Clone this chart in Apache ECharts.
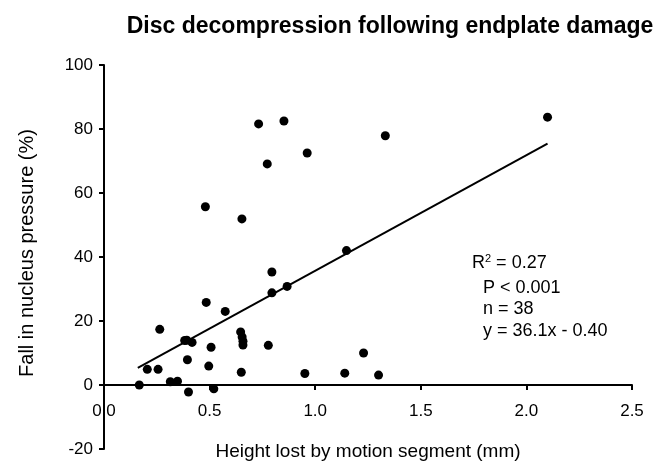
<!DOCTYPE html>
<html><head><meta charset="utf-8">
<script src="https://cdn.jsdelivr.net/npm/echarts@6/dist/echarts.min.js"></script>
<style>html,body{margin:0;padding:0;background:#fff}#c{width:667px;height:464px}</style>
</head><body><div id="c"></div>
<script>
const heightLost = [0.732,0.852,1.332,0.773,0.962,0.480,0.653,2.100,1.148,0.795,0.795,0.867,0.484,0.574,0.264,0.382,0.417,0.647,0.654,0.658,0.658,0.507,0.778,1.229,0.395,0.205,0.256,0.496,0.650,0.951,1.140,1.300,0.167,0.314,0.348,0.400,0.520,0.392];
const pressureFall = [81.6,82.5,77.9,69.1,72.5,55.7,51.9,83.7,42.0,35.3,28.8,30.8,25.8,23.0,17.4,13.9,13.3,16.6,15.0,13.7,12.5,11.8,12.4,10.0,7.9,4.9,4.9,5.9,4.0,3.6,3.7,3.1,0.0,1.0,1.2,-2.2,-1.2,14.0];
const fitSlope = 36.1, fitIntercept = -0.40;
const fitRange = [0.16, 2.10];
const xTicks = [0, 0.5, 1.0, 1.5, 2.0, 2.5];
const yTicks = [-20, 0, 20, 40, 60, 80, 100];
const statLines = ['P < 0.001', 'n = 38', 'y = 36.1x - 0.40'];

const pts = heightLost.map((x, i) => [x, pressureFall[i]]);
const fitLine = fitRange.map(x => [x, fitSlope * x + fitIntercept]);
const F = '"Liberation Sans", Arial, sans-serif';
const chart = echarts.init(document.getElementById('c'), null, {renderer: 'canvas'});
const gridTop = 65, gridBottom = 15, gridH = 464 - gridTop - gridBottom;
// shift the x axis up to the y = 0 level
const zeroOffset = -gridH * (0 - yTicks[0]) / (yTicks[yTicks.length-1] - yTicks[0]);
chart.setOption({
  animation: false,
  backgroundColor: '#fff',
  grid: {left: 104, right: 35, top: gridTop, bottom: gridBottom, containLabel: false, outerBoundsMode: 'none'},
  xAxis: {type: 'value', min: xTicks[0], max: xTicks[xTicks.length-1], interval: 0.5,
    position: 'bottom', offset: zeroOffset,
    name: 'Height lost by motion segment (mm)', nameLocation: 'middle', nameGap: 57,
    nameTextStyle: {fontFamily: F, fontSize: 19, color: '#000'},
    axisLine: {onZero: false, lineStyle: {color: '#000', width: 2}},
    axisTick: {show: true, length: 5, lineStyle: {color: '#000', width: 2}},
    axisLabel: {fontFamily: F, fontSize: 17, color: '#000', margin: 18, formatter: v => v.toFixed(1)},
    splitLine: {show: false}},
  yAxis: {type: 'value', min: yTicks[0], max: yTicks[yTicks.length-1], interval: 20,
    axisLine: {show: true, onZero: false, lineStyle: {color: '#000', width: 2}},
    axisTick: {show: true, length: 5, lineStyle: {color: '#000', width: 2}},
    axisLabel: {fontFamily: F, fontSize: 17, color: '#000', margin: 11},
    splitLine: {show: false}},
  series: [
    {type: 'line', data: fitLine, symbol: 'none', lineStyle: {color: '#000', width: 2}, z: 2},
    {type: 'scatter', data: pts, symbolSize: 9, itemStyle: {color: '#000', opacity: 1}, z: 3}
  ]
});
const gOpts = [
  {type: 'text', x: 390, y: 27,
    style: {text: 'Disc decompression following endplate damage', font: 'bold 23px ' + F, fill: '#000', textAlign: 'center', textVerticalAlign: 'middle'}},
  {type: 'text', x: 27, y: 253, rotation: Math.PI/2,
    style: {text: 'Fall in nucleus pressure (%)', font: '20px ' + F, fill: '#000', textAlign: 'center', textVerticalAlign: 'middle'}},
  {type: 'text', x: 472, y: 263,
    style: {text: 'R{s|2} = 0.27', rich: {s: {fontSize: 11, verticalAlign: 'top', padding: [0,0,9,0], fontFamily: F}},
      font: '18px ' + F, fill: '#000', textVerticalAlign: 'middle'}},
];
statLines.forEach((t, i) => gOpts.push({type: 'text', x: 483, y: 288 + i * 21.5,
  style: {text: t, font: '18px ' + F, fill: '#000', textVerticalAlign: 'middle'}}));
chart.setOption({graphic: gOpts});
</script></body></html>
